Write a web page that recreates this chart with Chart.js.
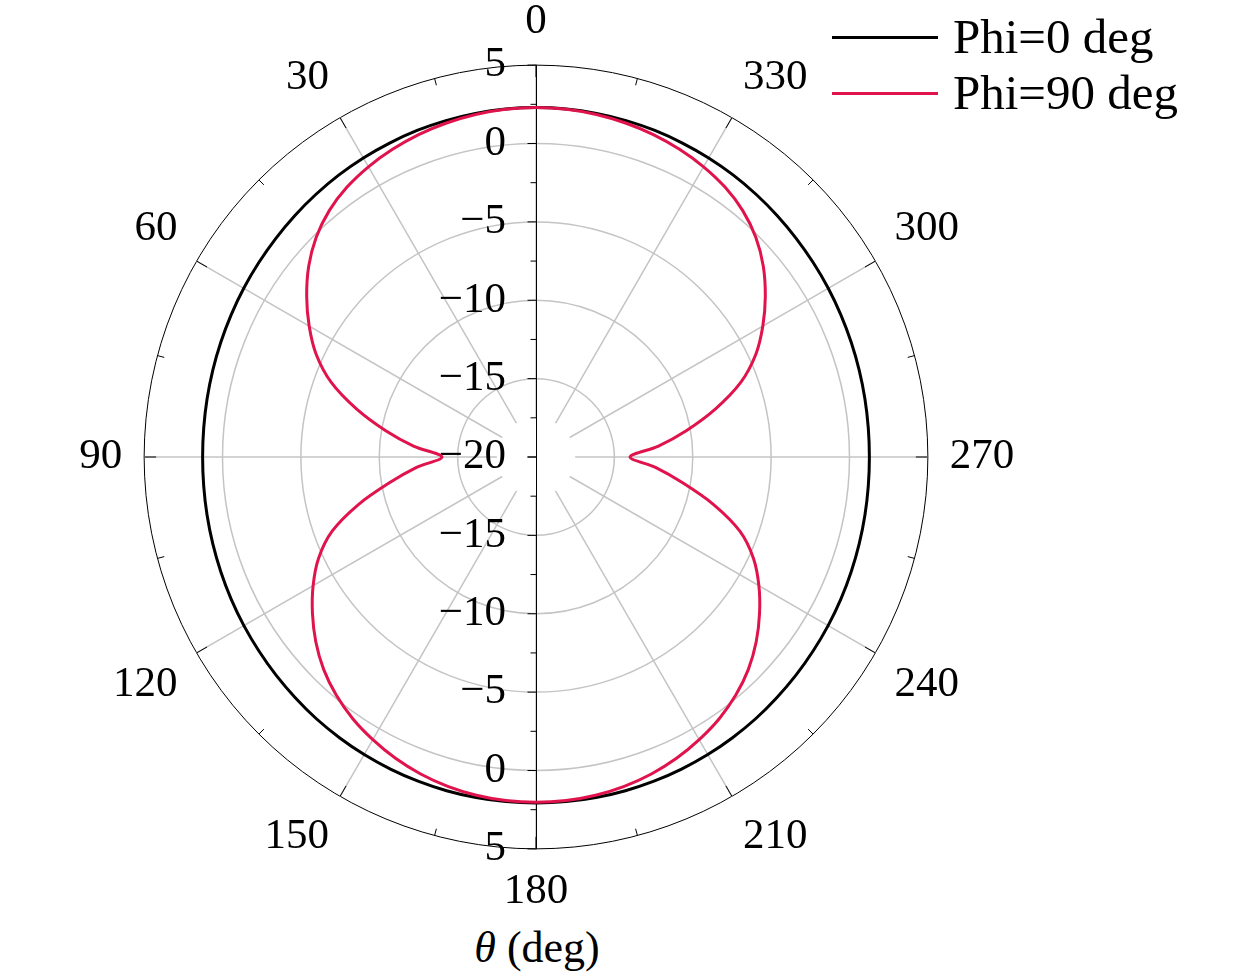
<!DOCTYPE html>
<html>
<head>
<meta charset="utf-8">
<script src="https://cdn.jsdelivr.net/npm/chart.js@4.4.1/dist/chart.umd.min.js"></script>
<style>
html,body{margin:0;padding:0;background:#fff;width:1260px;height:978px;overflow:hidden;position:relative;font-family:"Liberation Serif",serif;color:#000;}
#wrap{position:absolute;left:-9px;top:1px;width:1090px;height:912px;}
#legend{position:absolute;left:832px;top:9px;font-size:49px;line-height:56px;}
.row{display:flex;align-items:center;height:56px;white-space:nowrap;}
.sw{width:106px;height:3px;margin-right:15px;}
#xtitle{position:absolute;left:0;width:1074px;top:923px;line-height:50px;text-align:center;font-size:44px;}
</style>
</head>
<body>
<div id="wrap"><canvas id="c"></canvas></div>
<div id="legend"></div>
<div id="xtitle"><i>θ</i> (deg)</div>
<script>
// ---- data (theta in degrees, gain in dB) ----
const thetaDeg = [0,5,10,15,20,25,30,35,40,45,50,55,60,65,70,75,80,85,90,95,100,105,110,115,120,125,130,135,140,145,150,155,160,165,170,175,
                  180,185,190,195,200,205,210,215,220,225,230,235,240,245,250,255,260,265,270,275,280,285,290,295,300,305,310,315,320,325,330,335,340,345,350,355];
const phi0Gain = [2.30,2.29,2.26,2.22,2.17,2.10,2.03,1.95,1.86,1.77,1.68,1.60,1.53,1.46,1.40,1.35,1.31,1.28,1.27,1.28,1.31,1.35,1.40,1.46,1.52,1.58,1.65,1.72,1.80,1.86,1.92,1.97,2.01,2.04,2.06,2.07,
                  2.07,2.07,2.06,2.04,2.01,1.97,1.92,1.86,1.80,1.72,1.65,1.58,1.52,1.46,1.40,1.35,1.31,1.28,1.27,1.28,1.31,1.35,1.40,1.46,1.53,1.60,1.68,1.77,1.86,1.95,2.03,2.10,2.17,2.22,2.26,2.29];
const phi90Gain = [2.30,2.27,2.19,2.06,1.89,1.66,1.38,1.02,0.52,-0.17,-1.07,-2.14,-3.29,-4.53,-6.10,-8.14,-10.24,-12.19,-14.00,-12.35,-10.50,-8.27,-6.16,-4.69,-3.58,-2.59,-1.66,-0.84,-0.17,0.38,0.82,1.21,1.52,1.75,1.91,2.00,
                   2.03,2.00,1.91,1.75,1.52,1.21,0.82,0.38,-0.17,-0.84,-1.66,-2.59,-3.58,-4.69,-6.16,-8.27,-10.50,-12.35,-14.00,-12.19,-10.24,-8.14,-6.10,-4.53,-3.29,-2.14,-1.07,-0.17,0.52,1.02,1.38,1.66,1.89,2.06,2.19,2.27];
const seriesNames = ['Phi=0 deg','Phi=90 deg'];
const seriesColors = ['#000000','#e0134c'];
const angleTickLabels = [0,30,60,90,120,150,180,210,240,270,300,330];
const angleMinorTicks = [15,45,75,105,135,165,195,225,255,285,315,345];
const radialTicks = [-20,-15,-10,-5,0,5];
const radialMinorTicks = [-17.5,-12.5,-7.5,-2.5,2.5];
const radialMin = -20, radialMax = 5;

// radar goes clockwise from top; theta here goes counter-clockwise
const n = thetaDeg.length;
const order = thetaDeg.map((_, i) => (n - i) % n);
const labels = order.map(k => thetaDeg[k]);
const d0 = order.map(k => phi0Gain[k]);
const d90 = order.map(k => phi90Gain[k]);
const idxOf = t => labels.indexOf(t);
const fmt = v => (v < 0 ? '\u2212' + Math.abs(v) : String(v));
const FONT = '"Liberation Serif", serif';

const polarAxis = {
  id: 'polarAxis',
  beforeDatasetsDraw(chart) {
    const s = chart.scales.r, ctx = chart.ctx;
    const xc = s.xCenter, yc = s.yCenter;
    const dist = v => s.getDistanceFromCenterForValue(v);
    const R = dist(radialMax);
    ctx.save();
    ctx.fillStyle = '#fff';
    ctx.beginPath(); ctx.arc(xc, yc, dist(-17.5), 0, Math.PI * 2); ctx.fill();
    ctx.strokeStyle = '#000'; ctx.lineWidth = 1;
    const ringTick = (t, len) => {
      const i = idxOf(t); const a = s.getPointPosition(i, R), b = s.getPointPosition(i, R - len);
      ctx.beginPath(); ctx.moveTo(a.x, a.y); ctx.lineTo(b.x, b.y); ctx.stroke();
    };
    angleTickLabels.forEach(t => ringTick(t, 12));
    angleMinorTicks.forEach(t => ringTick(t, 7));
    const x = xc + 0.5;
    const pTop = s.getPointPosition(idxOf(0), R), pBot = s.getPointPosition(idxOf(180), R);
    ctx.beginPath(); ctx.moveTo(x, pTop.y); ctx.lineTo(x, pBot.y); ctx.stroke();
    const hTick = (y, len) => { ctx.beginPath(); ctx.moveTo(x - len, y); ctx.lineTo(x, y); ctx.stroke(); };
    radialTicks.forEach(v => { hTick(yc - dist(v), 9); hTick(yc + dist(v), 9); });
    radialMinorTicks.forEach(v => { hTick(yc - dist(v), 6); hTick(yc + dist(v), 6); });
    ctx.fillStyle = '#000';
    ctx.font = '43px ' + FONT;
    ctx.textAlign = 'right'; ctx.textBaseline = 'middle';
    radialTicks.forEach(v => {
      ctx.fillText(fmt(v), xc - 30, yc - dist(v));
      if (v !== radialMin) ctx.fillText(fmt(v), xc - 30, yc + dist(v));
    });
    ctx.restore();
  }
};

new Chart(document.getElementById('c'), {
  type: 'radar',
  data: {
    labels: labels,
    datasets: [
      { label: seriesNames[0], data: d0, borderColor: seriesColors[0], borderWidth: 3, order: 1 },
      { label: seriesNames[1], data: d90, borderColor: seriesColors[1], borderWidth: 3, order: 0 }
    ]
  },
  options: {
    responsive: true, maintainAspectRatio: false, animation: false,
    layout: { padding: 0 },
    elements: { point: { radius: 0, hoverRadius: 0 }, line: { fill: false, tension: 0.3, borderJoinStyle: 'round' } },
    plugins: { legend: { display: false }, tooltip: { enabled: false } },
    scales: {
      r: {
        min: radialMin, max: radialMax,
        ticks: { stepSize: 5, display: false },
        grid: {
          circular: true,
          color: c => (c.tick && c.tick.value === radialMax ? '#000' : '#c4c4c4'),
          lineWidth: c => (c.tick && c.tick.value === radialMax ? 1 : 1.5)
        },
        angleLines: {
          color: c => (angleTickLabels.includes(labels[c.index]) ? '#c4c4c4' : 'rgba(0,0,0,0)'),
          lineWidth: c => (angleTickLabels.includes(labels[c.index]) ? 1.5 : 0)
        },
        pointLabels: {
          color: '#000', padding: 22,
          font: { family: FONT, size: 43, lineHeight: 0.98 },
          callback: (lab) => (angleTickLabels.includes(lab) ? String(lab) : '')
        }
      }
    }
  },
  plugins: [polarAxis]
});

// legend
const lg = document.getElementById('legend');
seriesNames.forEach((nm, i) => {
  const r = document.createElement('div'); r.className = 'row';
  const sw = document.createElement('span'); sw.className = 'sw'; sw.style.background = seriesColors[i];
  const tx = document.createElement('span'); tx.textContent = nm;
  r.appendChild(sw); r.appendChild(tx); lg.appendChild(r);
});
</script>
</body>
</html>
